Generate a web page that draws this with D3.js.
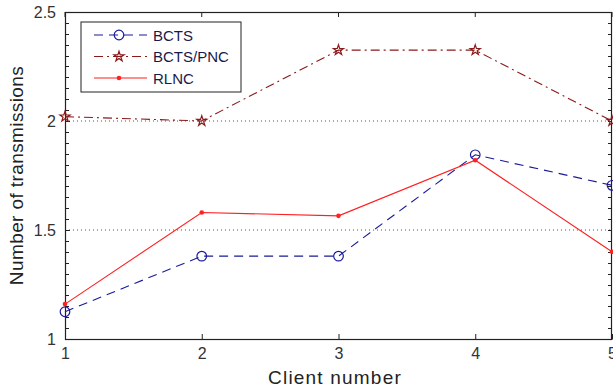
<!DOCTYPE html>
<html>
<head>
<meta charset="utf-8">
<script src="https://cdn.jsdelivr.net/npm/d3@7"></script>
<style>
  body { margin: 0; background: #fff; }
  text { font-family: "Liberation Sans", Arial, sans-serif; fill: #222; }
</style>
</head>
<body>
<div class="myChart"></div>
<script>
var svgWidth = 613;
var svgHeight = 391;

var chartMargin = { top: 12, right: 1, bottom: 52, left: 65 };
var chartWidth = svgWidth - chartMargin.left - chartMargin.right;
var chartHeight = svgHeight - chartMargin.top - chartMargin.bottom;

// data
var clients = [1, 2, 3, 4, 5];
var bcts = [1.125, 1.38, 1.38, 1.845, 1.705];
var bctsPnc = [2.02, 2.0, 2.325, 2.325, 2.0];
var rlnc = [1.16, 1.58, 1.565, 1.82, 1.40];
var yTicks = [1, 1.5, 2, 2.5];
var gridTicks = [1.5, 2];

var svg = d3.select(".myChart")
  .append("svg")
  .attr("width", svgWidth)
  .attr("height", svgHeight);

var chart = svg.append("g")
  .attr("transform", "translate(" + chartMargin.left + "," + chartMargin.top + ")");

var xScale = d3.scaleLinear().domain([1, 5]).range([0, chartWidth]);
var yScale = d3.scaleLinear().domain([1, 2.5]).range([chartHeight, 0]);

// dotted grid
chart.selectAll(".grid")
  .data(gridTicks)
  .enter().append("line")
  .attr("x1", 0)
  .attr("x2", chartWidth)
  .attr("y1", function(d) { return yScale(d); })
  .attr("y2", function(d) { return yScale(d); })
  .attr("stroke", "#555")
  .attr("stroke-width", 1)
  .attr("stroke-dasharray", "1,3");

// minor ticks every 0.05 on both sides
var minor = d3.range(1.05, 2.5, 0.05);
chart.selectAll(".minorL")
  .data(minor)
  .enter().append("line")
  .attr("x1", 0).attr("x2", 4)
  .attr("y1", function(d) { return Math.round(yScale(d)) + 0.5; })
  .attr("y2", function(d) { return Math.round(yScale(d)) + 0.5; })
  .attr("stroke", "#222");
chart.selectAll(".minorR")
  .data(minor)
  .enter().append("line")
  .attr("x1", chartWidth).attr("x2", chartWidth - 4)
  .attr("y1", function(d) { return Math.round(yScale(d)) + 0.5; })
  .attr("y2", function(d) { return Math.round(yScale(d)) + 0.5; })
  .attr("stroke", "#222");

// top x ticks
chart.selectAll(".topTick")
  .data(clients)
  .enter().append("line")
  .attr("x1", function(d) { return xScale(d); })
  .attr("x2", function(d) { return xScale(d); })
  .attr("y1", 0).attr("y2", 5)
  .attr("stroke", "#222");

var bottomAxis = d3.axisBottom(xScale).tickValues(clients).tickFormat(d3.format("d")).tickSizeInner(-5).tickSizeOuter(0).tickPadding(9);
var leftAxis = d3.axisLeft(yScale).tickValues(yTicks).tickFormat(function(d) { return d; }).tickSizeInner(-5).tickSizeOuter(0).tickPadding(9);

var xg = chart.append("g")
  .attr("transform", "translate(0," + chartHeight + ")")
  .call(bottomAxis);
var yg = chart.append("g")
  .call(leftAxis);
[xg, yg].forEach(function(g) {
  g.selectAll("text").style("font-size", "16px").style("fill", "#333");
  g.selectAll("line, path").attr("stroke", "#222");
});

// frame
chart.append("rect")
  .attr("x", 0.5).attr("y", 0.5)
  .attr("width", chartWidth - 1).attr("height", chartHeight)
  .attr("fill", "none")
  .attr("stroke", "#222")
  .attr("stroke-width", 1.2);

var series = [
  { name: "BCTS", values: bcts, color: "#1a1a99", dash: "9,6", marker: "circle" },
  { name: "BCTS/PNC", values: bctsPnc, color: "#8b1a1a", dash: "9,4,2,4", marker: "star" },
  { name: "RLNC", values: rlnc, color: "#ff2020", dash: null, marker: "dot" }
];

var line = d3.line()
  .x(function(d, i) { return xScale(clients[i]); })
  .y(function(d) { return yScale(d); });

function drawMarker(g, s, x, y) {
  if (s.marker === "circle") {
    g.append("circle").attr("cx", x).attr("cy", y).attr("r", 4.8)
      .attr("fill", "none").attr("stroke", s.color).attr("stroke-width", 1.2);
  } else if (s.marker === "star") {
    g.append("path").attr("d", d3.symbol().type(d3.symbolStar).size(32)())
      .attr("transform", "translate(" + x + "," + y + ")")
      .attr("fill", "none").attr("stroke", s.color).attr("stroke-width", 1.2);
  } else {
    g.append("circle").attr("cx", x).attr("cy", y).attr("r", 2.3)
      .attr("fill", s.color);
  }
}

series.forEach(function(s) {
  chart.append("path")
    .datum(s.values)
    .attr("d", line)
    .attr("fill", "none")
    .attr("stroke", s.color)
    .attr("stroke-width", 1.1)
    .attr("stroke-dasharray", s.dash);
  s.values.forEach(function(v, i) {
    drawMarker(chart, s, xScale(clients[i]), yScale(v));
  });
});

// legend
var legend = chart.append("g").attr("transform", "translate(16,10)");
legend.append("rect")
  .attr("x", 0).attr("y", 0).attr("width", 160).attr("height", 70)
  .attr("fill", "#fff").attr("stroke", "#222").attr("stroke-width", 1);
series.forEach(function(s, i) {
  var y = 13 + i * 21.5;
  legend.append("line")
    .attr("x1", 13).attr("x2", 66).attr("y1", y).attr("y2", y)
    .attr("stroke", s.color).attr("stroke-width", 1.1)
    .attr("stroke-dasharray", s.dash);
  drawMarker(legend, s, 38, y);
  legend.append("text")
    .attr("x", 72).attr("y", y + 5.5)
    .style("font-size", "15px")
    .style("fill", "#1a1a4a")
    .text(s.name);
});

chart.append("text")
  .attr("transform", "rotate(-90)")
  .attr("x", -chartHeight / 2)
  .attr("y", -42)
  .style("text-anchor", "middle")
  .style("font-size", "19px")
  .style("letter-spacing", "0.4px")
  .text("Number of transmissions");

chart.append("text")
  .attr("x", 270)
  .attr("y", chartHeight + 45)
  .style("text-anchor", "middle")
  .style("font-size", "19px")
  .style("letter-spacing", "1.2px")
  .text("Client number");
</script>
</body>
</html>
